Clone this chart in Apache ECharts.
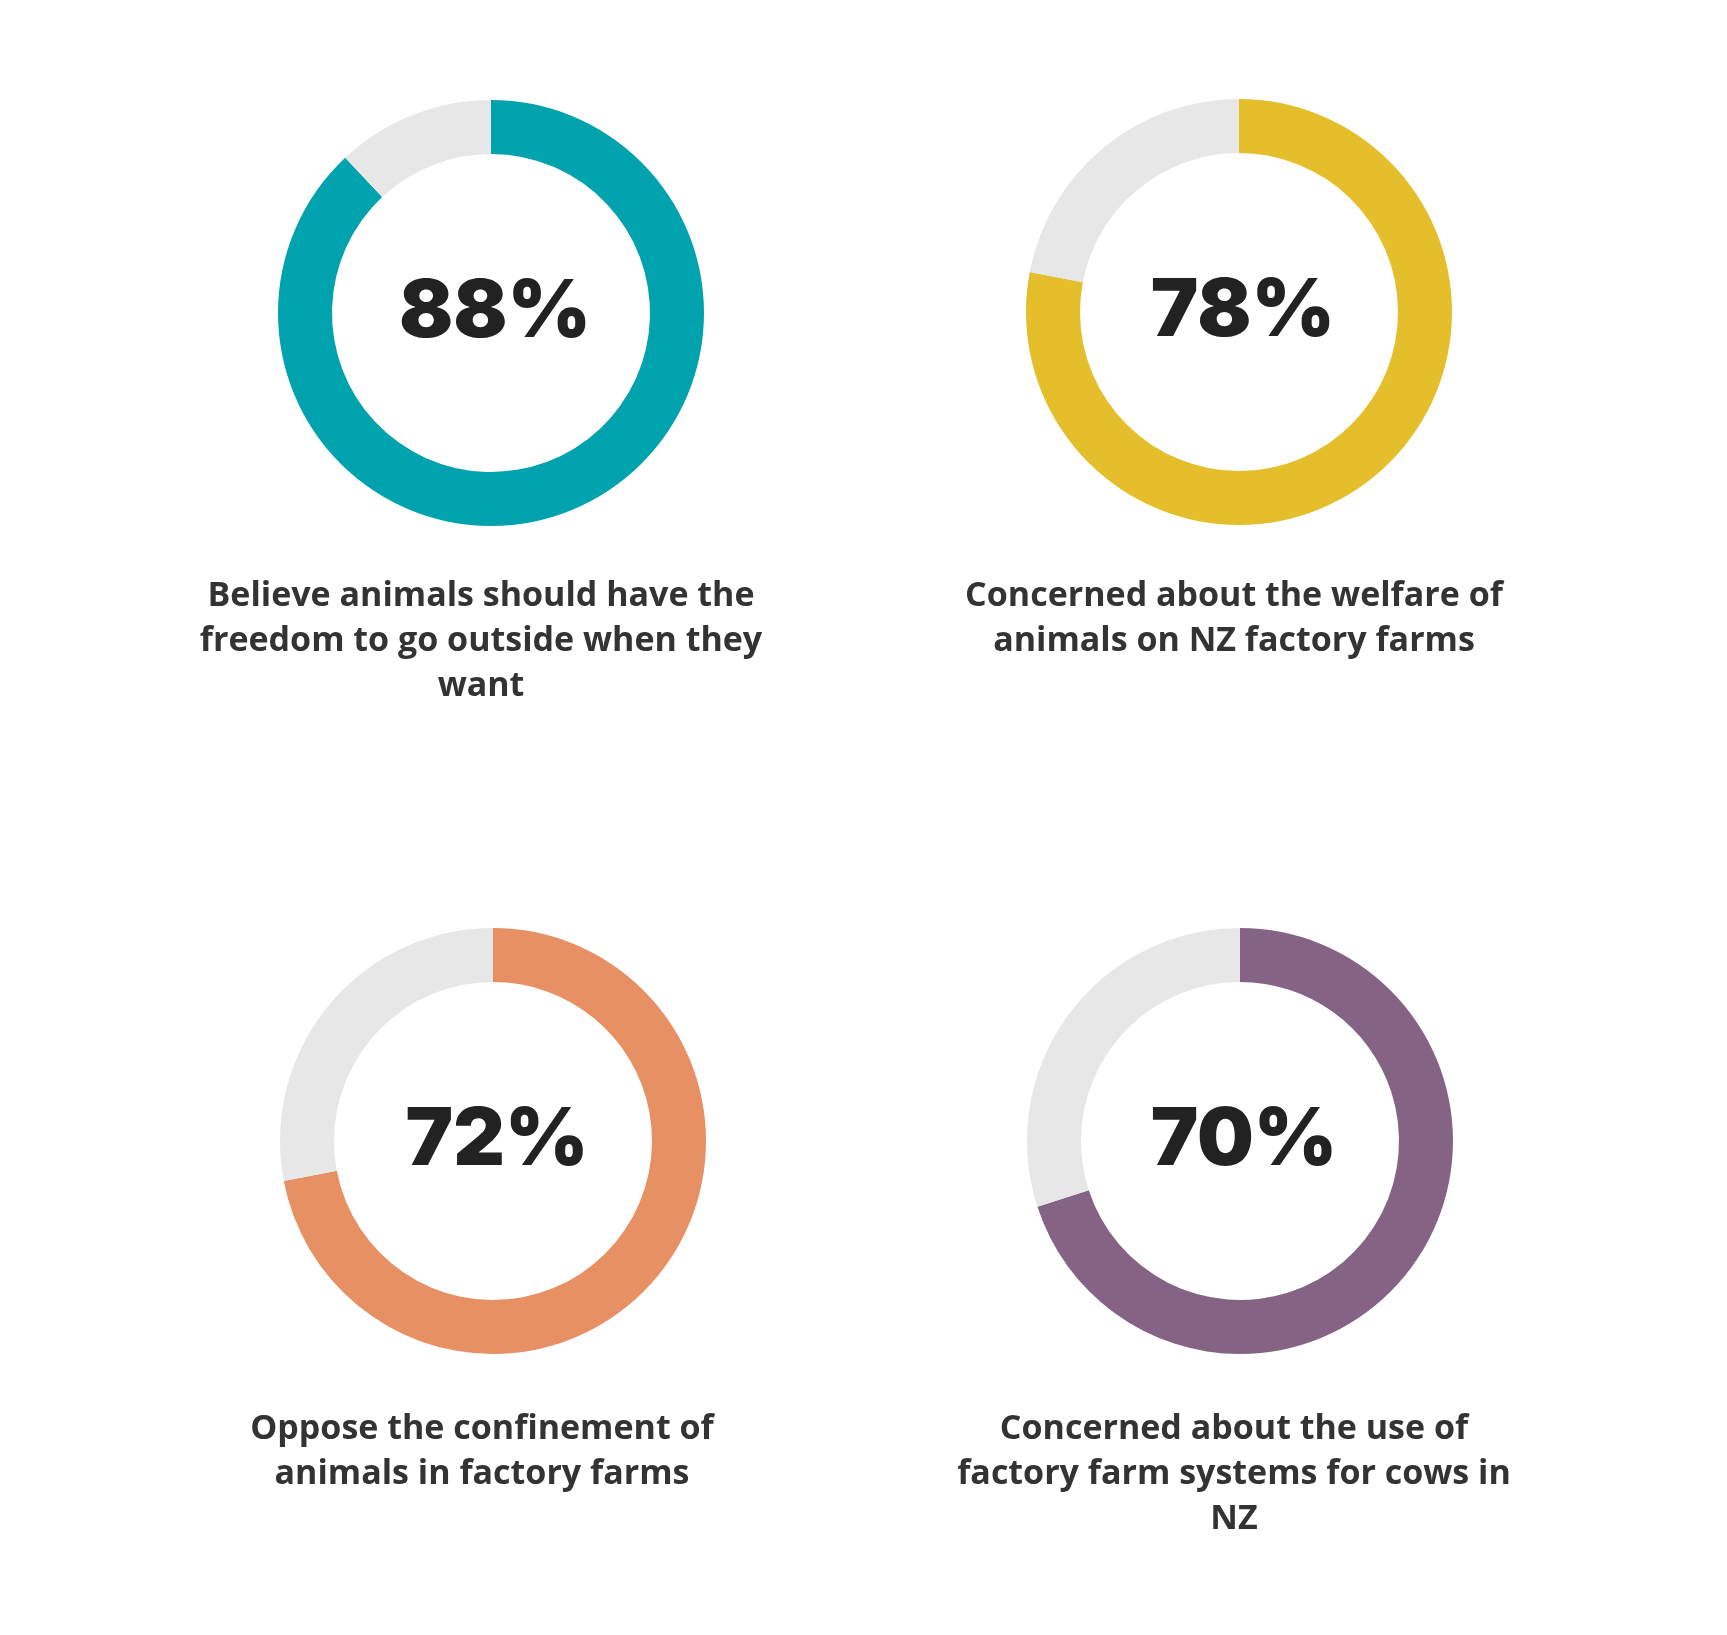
<!DOCTYPE html>
<html>
<head>
<meta charset="utf-8">
<script src="https://cdn.jsdelivr.net/npm/echarts@6/dist/echarts.min.js"></script>
<style>
  html, body { margin: 0; padding: 0; background: #fff; }
  #chart { width: 1727px; height: 1635px; }
</style>
</head>
<body>
<div id="chart"></div>
<script>
// survey results, one donut each
const percents = [88, 78, 72, 70]
const colors = ['#00a2ae', '#e5be2c', '#e69064', '#856384']
const captions = [
  'Believe animals should have the\nfreedom to go outside when they\nwant',
  'Concerned about the welfare of\nanimals on NZ factory farms',
  'Oppose the confinement of\nanimals in factory farms',
  'Concerned about the use of\nfactory farm systems for cows in\nNZ'
]

const centers = [[491, 313], [1239, 312], [493, 1141], [1240, 1141]]
const captionPos = [[481, 574], [1234, 574], [482, 1407], [1234, 1407]]
const restColor = '#e6e7e6'

const chart = echarts.init(document.getElementById('chart'))

const series = percents.map((p, i) => {
  return {
    type: 'pie',
    center: centers[i],
    radius: [159, 213],
    startAngle: 90,
    clockwise: true,
    silent: true,
    avoidLabelOverlap: false,
    labelLine: { show: false },
    data: [
      {
        value: p,
        itemStyle: { color: colors[i] },
        label: {
          show: true,
          position: 'center',
          formatter: p + '%',
          offset: [4, 0],
          color: '#222',
          fontFamily: 'Inter',
          fontWeight: 900,
          fontSize: 80
        }
      },
      {
        value: 100 - p,
        itemStyle: { color: restColor },
        label: { show: false }
      }
    ]
  }
})

const graphic = captions.map((c, i) => {
  return {
    type: 'text',
    x: captionPos[i][0],
    y: captionPos[i][1],
    style: {
      text: c,
      textAlign: 'center',
      textVerticalAlign: 'top',
      fill: '#333',
      font: 'bold 34px "Open Sans"',
      lineHeight: 45
    }
  }
})

chart.setOption({
  backgroundColor: '#fff',
  animation: false,
  series: series,
  graphic: graphic
})
</script>
</body>
</html>
